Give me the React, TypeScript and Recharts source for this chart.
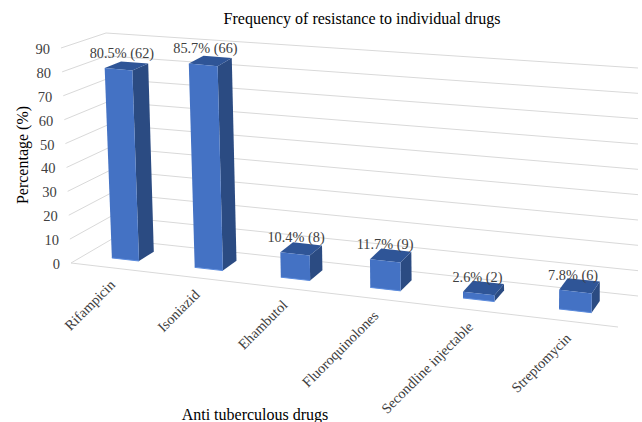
import { BarChart, Bar, XAxis, YAxis, CartesianGrid, LabelList, Text } from "recharts"

const drugs = ["Rifampicin", "Isoniazid", "Ehambutol", "Fluoroquinolones", "Secondline injectable", "Streptomycin"]
const percentages = [80.5, 85.7, 10.4, 11.7, 2.6, 7.8]
const counts = [62, 66, 8, 9, 2, 6]
const yTicks = [0, 10, 20, 30, 40, 50, 60, 70, 80, 90]

const chartData = drugs.map((drug, i) => ({
  drug,
  percent: percentages[i],
  label: `${percentages[i]}% (${counts[i]})`,
}))

const WIDTH = 642
const HEIGHT = 422
const FONT = "'Liberation Serif', 'Times New Roman', serif"

// flat plot rectangle that recharts scales into; project() turns it into the 3D view
const PLOT = { left: 60, top: 40, right: 620, bottom: 300 }
const BAR_FRONT = 0.34
const BAR_BACK = 0.72

type Pt = [number, number]
const CORNERS: Record<string, Pt> = {
  fbl: [71, 263],
  fbr: [618, 327],
  bbl: [112, 239],
  bbr: [638, 296],
  ftl: [61, 48],
  ftr: [623, 108],
  btl: [106, 33],
  btr: [638, 68],
}

const mix = (a: Pt, b: Pt, t: number): Pt => [a[0] + (b[0] - a[0]) * t, a[1] + (b[1] - a[1]) * t]

// u across the categories, v up the value axis, d into the depth (all 0..1)
function project(u: number, v: number, d: number): Pt {
  const bottom = mix(mix(CORNERS.fbl, CORNERS.fbr, u), mix(CORNERS.bbl, CORNERS.bbr, u), d)
  const top = mix(mix(CORNERS.ftl, CORNERS.ftr, u), mix(CORNERS.btl, CORNERS.btr, u), d)
  return mix(bottom, top, v)
}

// foreshortening along the category axis
const warp = (u: number) => u - 0.11 * u * (1 - u)

const toU = (x: number) => (x - PLOT.left) / (PLOT.right - PLOT.left)
const toV = (y: number) => (PLOT.bottom - y) / (PLOT.bottom - PLOT.top)

const poly = (pts: Pt[]) => pts.map((p) => `${p[0]},${p[1]}`).join(" ")

function Bar3D(props: any) {
  const { x, y, width, height } = props
  const u0 = warp(toU(x))
  const u1 = warp(toU(x + width))
  const v = toV(y)
  const v0 = toV(y + height)
  const fbl = project(u0, v0, BAR_FRONT)
  const fbr = project(u1, v0, BAR_FRONT)
  const ftl = project(u0, v, BAR_FRONT)
  const ftr = project(u1, v, BAR_FRONT)
  const bbr = project(u1, v0, BAR_BACK)
  const btr = project(u1, v, BAR_BACK)
  const btl = project(u0, v, BAR_BACK)
  return (
    <g>
      <polygon points={poly([ftr, fbr, bbr, btr])} fill="#2B4B82" />
      <polygon points={poly([ftl, ftr, btr, btl])} fill="#2F5597" />
      <polygon points={poly([ftl, ftr, fbr, fbl])} fill="#4472C4" />
      <polyline points={poly([fbl, fbr])} fill="none" stroke="#5B8BDD" strokeWidth={1} />
    </g>
  )
}

function GridLine(props: any) {
  const v = toV(props.y1)
  const front = project(0, v, 0)
  const back = project(0, v, 1)
  const right = project(1, v, 1)
  return (
    <g>
      <polyline points={poly([front, back, right])} fill="none" stroke="#D9D9D9" strokeWidth={1} />
      {v < 0.001 && (
        <polyline points={poly([front, project(1, 0, 0)])} fill="none" stroke="#D9D9D9" strokeWidth={1} />
      )}
    </g>
  )
}

function YTick(props: any) {
  const v = toV(props.y)
  const [px, py] = project(0, v, 0)
  return (
    <text x={px - 11} y={py + 6} textAnchor="end" fontFamily={FONT} fontSize={14.5} fill="#404040">
      {props.payload.value}
    </text>
  )
}

function XTick(props: any) {
  const [px, py] = project(warp(toU(props.x)), 0, 0)
  const ax = px + 4
  const ay = py + 18
  return (
    <text
      x={ax}
      y={ay}
      textAnchor="end"
      transform={`rotate(-45 ${ax} ${ay})`}
      fontFamily={FONT}
      fontSize={14.3}
      fill="#404040"
    >
      {props.payload.value}
    </text>
  )
}

function BarValue(props: any) {
  const { x, y, width, value } = props
  const u = toU(x + width / 2)
  const [px, py] = project(warp(u), toV(y), BAR_FRONT)
  return (
    <text x={px + 4 - 7 * u} y={py - 11.5} textAnchor="middle" fontFamily={FONT} fontSize={14.3} fill="#404040">
      {value}
    </text>
  )
}

export default function App() {
  return (
    <div style={{ position: "absolute", left: 0, top: 0, width: WIDTH, height: HEIGHT, background: "#fff" }}>
      <BarChart
        width={WIDTH}
        height={HEIGHT}
        data={chartData}
        barCategoryGap="33.4%"
        margin={{ left: PLOT.left - 1, top: PLOT.top, right: WIDTH - PLOT.right, bottom: HEIGHT - PLOT.bottom - 1 }}
      >
        <CartesianGrid vertical={false} horizontal={GridLine as any} />
        <XAxis dataKey="drug" height={1} axisLine={false} tickLine={false} interval={0} tick={XTick as any} />
        <YAxis
          width={1}
          domain={[0, 90]}
          ticks={yTicks}
          interval={0}
          axisLine={false}
          tickLine={false}
          tick={YTick as any}
        />
        <Bar dataKey="percent" shape={Bar3D as any} isAnimationActive={false}>
          <LabelList dataKey="label" content={BarValue as any} />
        </Bar>
        <text x={362} y={24} textAnchor="middle" fontFamily={FONT} fontSize={16} fill="#000">
          Frequency of resistance to individual drugs
        </text>
        <text x={255} y={420} textAnchor="middle" fontFamily={FONT} fontSize={16} fill="#000">
          Anti tuberculous drugs
        </text>
        <Text x={22} y={155} angle={-90} textAnchor="middle" verticalAnchor="middle" fontFamily={FONT} fontSize={16} fill="#000">
          Percentage (%)
        </Text>
      </BarChart>
    </div>
  )
}
